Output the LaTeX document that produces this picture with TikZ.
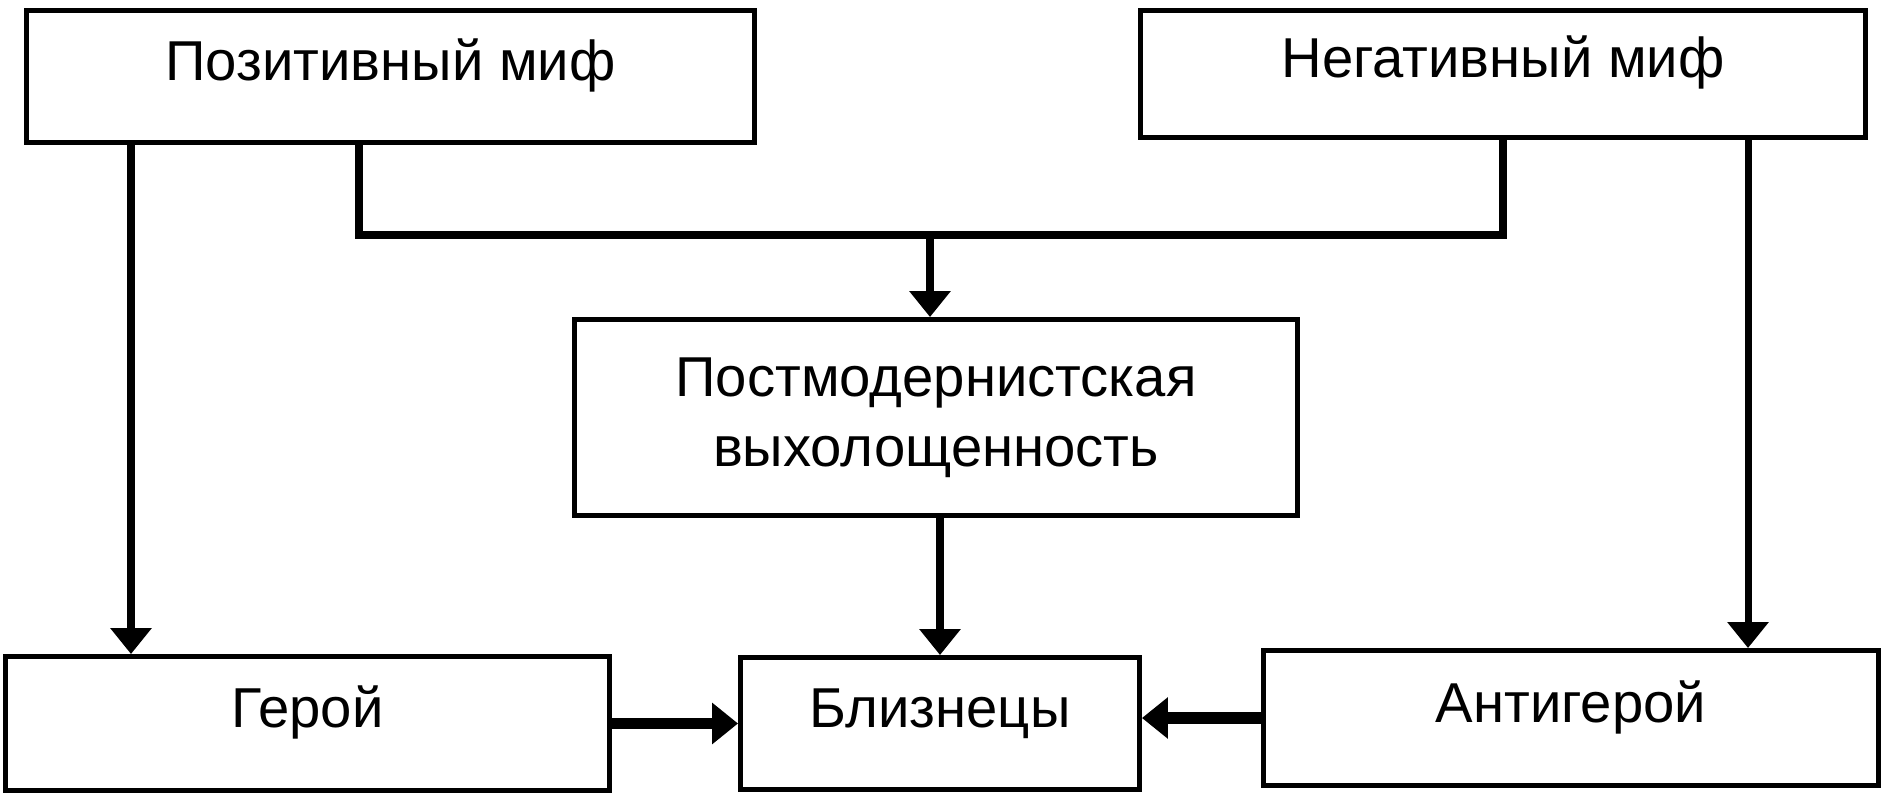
\documentclass[tikz,border=0pt]{standalone}
\usepackage{fontspec}
\setmainfont{Liberation Sans}
\usepackage{tikz}
\usetikzlibrary{arrows.meta}
\tikzset{>={Triangle[width=0.4cm,length=0.26cm]}}
\tikzset{
  box/.style={draw, line width=1.4pt, inner sep=0pt, font=\fontsize{16}{20}\selectfont},
  oneline/.style={box, text height=0.42cm, text depth=0.34cm},
  conn/.style={line width=2pt},
  side/.style={line width=3.2pt}
}

\begin{document}
\begin{tikzpicture}
  \useasboundingbox (0,0) rectangle (18.9,-7.97);

  \node[oneline, minimum width=7.28cm, minimum height=1.32cm] (pos) at (3.905,-0.765) {Позитивный миф};
  \node[oneline, minimum width=7.25cm, minimum height=1.27cm] (neg) at (15.03,-0.74) {Негативный миф};
  \node[box, align=center, minimum width=7.23cm, minimum height=1.96cm] (post) at (9.36,-4.175) {Постмодернистская\\выхолощенность};
  \node[oneline, minimum width=6.04cm, minimum height=1.34cm] (hero) at (3.075,-7.235) {Герой};
  \node[oneline, minimum width=3.99cm, minimum height=1.32cm] (twins) at (9.40,-7.235) {Близнецы};
  \node[oneline, minimum width=6.15cm, minimum height=1.35cm] (anti) at (15.71,-7.18) {Антигерой};

  \coordinate (hl) at (1.31,0);
  \coordinate (al) at (17.48,0);
  \coordinate (jl) at (3.59,-2.35);
  \coordinate (jr) at (15.03,-2.35);
  \coordinate (jm) at (9.30,-2.35);

  \draw[conn,->] (pos.south -| hl) -- (hero.north -| hl);
  \draw[conn,->] (neg.south -| al) -- (anti.north -| al);
  \draw[conn] (pos.south -| jl) -- (jl) -- (jr) -- (neg.south);
  \draw[conn,->] (jm) -- (post.north -| jm);
  \draw[conn,->] (post.south -| twins.north) -- (twins.north);

  \draw[side,->] (hero.east) -- (twins.west);
  \draw[side,->] (anti.west) -- (twins.east |- anti.west);
\end{tikzpicture}
\end{document}
